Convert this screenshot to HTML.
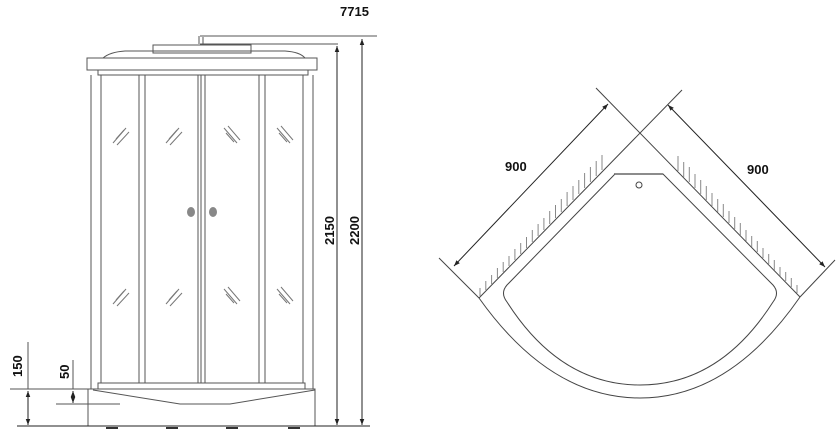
<!DOCTYPE html>
<html><head><meta charset="utf-8"><style>
html,body{margin:0;padding:0;background:#fff;}
svg{display:block;}
text{font-family:"Liberation Sans",sans-serif;font-weight:bold;font-size:13px;fill:#111;}
</style></head><body>
<svg width="837" height="432" viewBox="0 0 837 432" xmlns="http://www.w3.org/2000/svg">
<defs>
<marker id="a" viewBox="0 0 8 8" refX="8" refY="4" markerWidth="6" markerHeight="6" orient="auto-start-reverse"><path d="M0,1 L8,4 L0,7 Z" fill="#222"/></marker>
</defs>
<g stroke="#555" fill="none" stroke-width="1">
<line x1="200" y1="36" x2="377" y2="36"/>
<line x1="200" y1="44" x2="338" y2="44"/>
<path d="M199,36 L199,44 M203,37 L203,44" />
<rect x="153" y="45" width="98" height="8"/>
<path d="M103,58 Q110,52 125,51 L285,51 Q300,52 305,58"/>
<rect x="87" y="58" width="230" height="12"/>
<rect x="98" y="70" width="210" height="5"/>
<line x1="91" y1="75" x2="91" y2="389"/><line x1="101" y1="75" x2="101" y2="383"/>
<line x1="139" y1="75" x2="139" y2="383"/><line x1="145" y1="75" x2="145" y2="383"/>
<line x1="198" y1="75" x2="198" y2="383"/><line x1="201" y1="75" x2="201" y2="383"/><line x1="205" y1="75" x2="205" y2="383"/>
<line x1="259" y1="75" x2="259" y2="383"/><line x1="265" y1="75" x2="265" y2="383"/>
<line x1="303" y1="75" x2="303" y2="383"/><line x1="313" y1="75" x2="313" y2="389"/>
<rect x="98" y="383" width="207" height="6"/>
<rect x="88" y="389" width="227" height="37"/>
<path d="M93,390 L180,404 L230,404 L315,390"/>
<g stroke="#777">
<path d="M113,143 L126,128 M117,145 L129,132 M116,139 L124,130"/>
<path d="M166,143 L179,128 M170,145 L182,132 M169,139 L177,130"/>
<path d="M224,128 L237,143 M228,126 L240,140 M226,133 L234,142"/>
<path d="M277,128 L290,143 M281,126 L293,140 M279,133 L287,142"/>
<path d="M113,304 L126,289 M117,306 L129,293 M116,300 L124,291"/>
<path d="M166,304 L179,289 M170,306 L182,293 M169,300 L177,291"/>
<path d="M224,289 L237,304 M228,287 L240,301 M226,294 L234,303"/>
<path d="M277,289 L290,304 M281,287 L293,301 M279,294 L287,303"/>
</g>
<line x1="17" y1="426" x2="370" y2="426" stroke="#222"/>
<line x1="10" y1="389" x2="95" y2="389"/>
<line x1="56" y1="404" x2="120" y2="404"/>
<line x1="28" y1="342" x2="28" y2="389"/>
<line x1="28" y1="391" x2="28" y2="425" marker-start="url(#a)" marker-end="url(#a)" stroke="#222"/>
<line x1="73" y1="360" x2="73" y2="389"/>
<line x1="73" y1="391" x2="73" y2="403" marker-start="url(#a)" marker-end="url(#a)" stroke="#222"/>
<line x1="337" y1="46" x2="337" y2="425" marker-start="url(#a)" marker-end="url(#a)" stroke="#222"/>
<line x1="362" y1="39" x2="362" y2="425" marker-start="url(#a)" marker-end="url(#a)" stroke="#222"/>
<g stroke="#333" stroke-width="2"><line x1="106" y1="428" x2="118" y2="428"/><line x1="166" y1="428" x2="178" y2="428"/><line x1="226" y1="428" x2="238" y2="428"/><line x1="288" y1="428" x2="300" y2="428"/></g>
</g>
<ellipse cx="191" cy="212" rx="4" ry="5" fill="#888"/>
<ellipse cx="213" cy="212" rx="4" ry="5" fill="#888"/>
<text x="340" y="16">7715</text>
<text transform="translate(334,245) rotate(-90)">2150</text>
<text transform="translate(359,245) rotate(-90)">2200</text>
<text transform="translate(22,377) rotate(-90)">150</text>
<text transform="translate(69,379) rotate(-90)">50</text>

<g stroke="#444" fill="none" stroke-width="1">
<line x1="439" y1="258" x2="479" y2="298"/>
<line x1="596" y1="88" x2="800" y2="297"/>
<line x1="682" y1="90" x2="479" y2="298"/>
<line x1="835" y1="260" x2="800" y2="297"/>
<line x1="454" y1="266" x2="608" y2="104" marker-start="url(#a)" marker-end="url(#a)" stroke="#222"/>
<line x1="668" y1="105" x2="825" y2="267" marker-start="url(#a)" marker-end="url(#a)" stroke="#222"/>
<path d="M479,298 Q550,398 640,398 Q730,398 800,297"/>
<path d="M615,174 L663,174 L773,285 Q780,293 773,302 Q720,385 640,385 Q560,385 507,302 Q500,293 507,285 Z"/>
<path d="M614,174 L663,174" stroke="#666" stroke-width="1.5"/>
<circle cx="639" cy="185" r="3"/>
<path stroke="#888" d="M480,296v-8 M485.8,290v-9 M491.6,284v-9 M497.4,278v-10 M503.2,272v-10 M509,266v-10 M514.9,260v-11 M520.7,254v-11 M526.5,248v-11 M532.3,242v-12 M538.1,236v-12 M543.9,230v-12 M549.7,224v-13 M555.5,218v-13 M561.3,212v-13 M567.1,206v-14 M573,200v-14 M578.8,194v-14 M584.6,188v-15 M590.4,182v-15 M596.2,176v-15 M602,170v-15"/>
<path stroke="#888" d="M678,171v-15 M683.7,177v-15 M689.3,182v-15 M695,188v-14 M700.7,194v-14 M706.3,200v-14 M712,206v-13 M717.7,212v-13 M723.3,217v-13 M729,223v-12 M734.7,229v-12 M740.3,235v-12 M746,241v-11 M751.7,247v-11 M757.3,252v-11 M763,258v-10 M768.7,264v-10 M774.3,270v-10 M780,276v-9 M785.7,281v-9 M791.3,287v-9 M797,293v-8"/>
</g>
<text x="505" y="171">900</text>
<text x="747" y="174">900</text>
</svg>
</body></html>
